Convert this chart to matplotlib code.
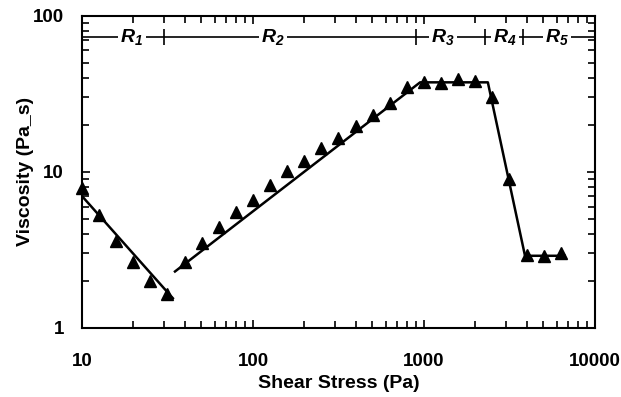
import numpy as np
import matplotlib.pyplot as plt
from matplotlib.ticker import FixedLocator, NullFormatter, FuncFormatter

plt.rcParams['font.family'] = ['Liberation Sans', 'DejaVu Sans']
plt.rcParams['font.weight'] = 'bold'
plt.rcParams['mathtext.fontset'] = 'custom'
plt.rcParams['mathtext.it'] = 'Liberation Sans:italic:bold'
plt.rcParams['mathtext.rm'] = 'Liberation Sans:italic:bold'

# measured points
stress = [10, 12.6, 15.8, 20, 25.1, 31.6,
          39.8, 50.1, 63.1, 79.4, 100, 126, 158, 200, 251, 316, 398, 501, 631, 794,
          1000, 1259, 1585, 1995, 2512, 3162, 3981, 5012, 6310]
visc = [7.9, 5.3, 3.6, 2.65, 2.0, 1.65,
        2.65, 3.48, 4.44, 5.54, 6.64, 8.2, 10.1, 11.7, 14.2, 16.6, 19.8, 23.2, 27.5, 34.8,
        37.8, 37.0, 39.4, 38.0, 30.0, 9.05, 2.95, 2.88, 3.01]

# fitted lines
fit1_x = [10, 34]
fit1_y = [7.0, 1.55]
fit2_x = [35, 950, 2365, 3900, 6650]
fit2_y = [2.3, 37.5, 37.5, 2.9, 2.9]

# regions
region_y = 73
bounds = [30, 900, 2275, 3800]
region_names = ['$R_{1}$', '$R_{2}$', '$R_{3}$', '$R_{4}$', '$R_{5}$']
region_pos = [19.6, 131, 1290, 2980, 6000]

fig = plt.figure(figsize=(6.21, 3.97), dpi=100)
ax = fig.add_axes([0.132, 0.174, 0.826, 0.786])

ax.plot(fit1_x, fit1_y, color='black', lw=1.8)
ax.plot(fit2_x, fit2_y, color='black', lw=1.8)
ax.plot(stress, visc, '^', color='black', ms=9, zorder=3, clip_on=False)

ax.axhline(region_y, color='black', lw=1.2)
ax.plot(bounds, [region_y] * len(bounds), '|', color='black', ms=11, mew=1.2)
for name, xp in zip(region_names, region_pos):
    ax.text(xp, region_y, name, ha='center', va='center', fontsize=14,
            bbox=dict(facecolor='white', edgecolor='none', pad=1.5))

ax.set_xscale('log')
ax.set_yscale('log')
ax.set_xlim(10, 10000)
ax.set_ylim(1, 100)

fmt = FuncFormatter(lambda v, p: '%d' % v)
ax.xaxis.set_major_formatter(fmt)
ax.yaxis.set_major_formatter(fmt)
ax.xaxis.set_minor_formatter(NullFormatter())
ax.yaxis.set_minor_formatter(NullFormatter())

ax.tick_params(which='both', direction='in', top=True, right=True, width=1.2,
               labelsize=13.5)
ax.tick_params(axis='x', which='major', pad=18)
ax.tick_params(axis='y', which='major', pad=13)
ax.tick_params(which='major', length=6)
ax.tick_params(which='minor', length=5)
for s in ax.spines.values():
    s.set_linewidth(1.5)

ax.set_xlabel('Shear Stress (Pa)', fontsize=14, fontweight='bold', labelpad=4)
ax.set_ylabel('Viscosity (Pa_s)', fontsize=14, fontweight='bold', labelpad=-1)

fig.savefig('out.png', dpi=100)
